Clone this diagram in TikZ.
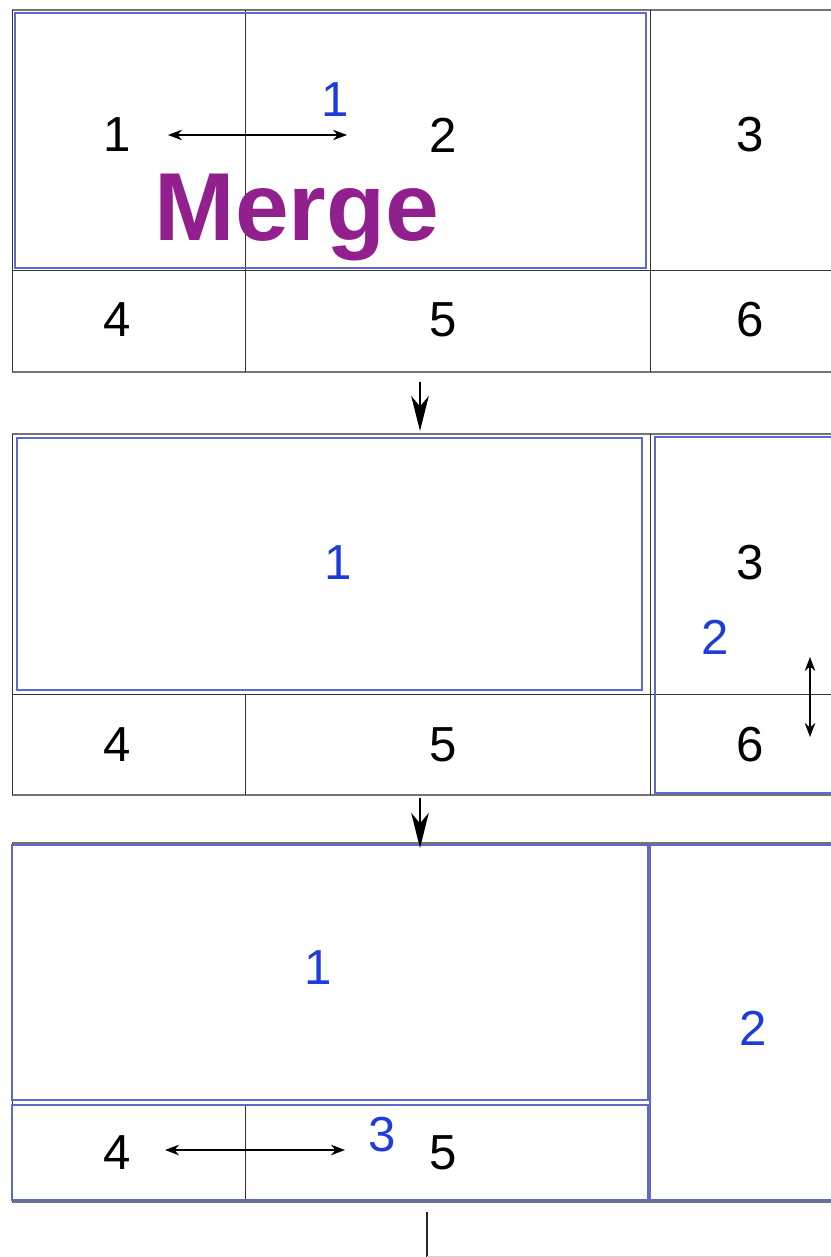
\documentclass[tikz,border=0pt]{standalone}
\usepackage{fontspec}
\setmainfont{Liberation Sans}
\usetikzlibrary{arrows.meta,positioning}
\definecolor{kek}{RGB}{30,60,220}
\definecolor{keret}{RGB}{95,105,205}
\definecolor{lila}{RGB}{145,32,142}
\tikzset{
  vonal/.style={draw=black!80,line width=0.5pt},
  szel/.style={draw=black!55,line width=1.5pt},
  blokk/.style={draw=keret,line width=1.1pt},
  szam/.style={font=\fontsize{28}{30}\selectfont,inner sep=0pt},
  kszam/.style={szam,text=kek},
  nyil/.style={{Stealth[length=8pt,width=6pt]}-{Stealth[length=8pt,width=6pt]},line width=0.6pt},
  lenyil/.style={-{Stealth[length=20pt,width=10pt,inset=6pt]},line width=0.9pt},
}
\begin{document}
\begin{tikzpicture}[x=0.02cm,y=-0.02cm]
  \clip (0,0) rectangle (831,1257);
  % 1. racs + merge
  \begin{scope}
    \draw[szel] (12,10) -- (840,10);
    \draw[szel] (12,372) -- (840,372);
    \draw[vonal] (12,10) -- (12,372);
    \draw[vonal] (12,270) -- (840,270);
    \draw[vonal] (245,10) -- (245,372);
    \draw[vonal] (650,10) -- (650,372);
    \draw[blokk] (15,13) rectangle (646,268);
    \node[szam] (e1) at (117,135) {1};
    \node[szam] (e2) at (443,135) {2};
    \node[szam] (e3) at (750,135) {3};
    \node[szam] (e4) at (117,320) {4};
    \node[szam] (e5) at (443,320) {5};
    \node[szam] (e6) at (750,320) {6};
    \node[kszam] (ek1) at (335,100) {1};
    \coordinate (ea) at (168,135); \coordinate (eb) at (347,135);
    \draw[nyil] (ea) -- (eb);
    \node[anchor=base,inner sep=0pt,text=lila,font=\fontsize{55}{60}\selectfont\bfseries] (merge) at (297,240) {Merge};
    \coordinate (le1) at (420,382);
  \end{scope}
  % 2. 1 kesz, 3+6
  \begin{scope}
    \draw[szel] (12,434) -- (840,434);
    \draw[szel] (12,795) -- (840,795);
    \draw[vonal] (12,434) -- (12,795);
    \draw[vonal] (12,694) -- (840,694);
    \draw[vonal] (245,694) -- (245,795);
    \draw[vonal] (650,434) -- (650,795);
    \draw[blokk] (17,438) rectangle (642,690);
    \draw[blokk] (655,437) rectangle (840,793);
    \node[kszam] (mk1) at (338,563) {1};
    \node[szam] (m3) at (750,563) {3};
    \node[kszam] (mk2) at (715,637) {2};
    \node[szam] (m4) at (117,745) {4};
    \node[szam] (m5) at (443,745) {5};
    \node[szam] (m6) at (750,745) {6};
    \coordinate (ma) at (810,657); \coordinate (mb) at (810,737);
    \draw[nyil] (ma) -- (mb);
    \coordinate (fel2) at (420,431);
    \coordinate (le2) at (420,798);
  \end{scope}
  \draw[lenyil] (le1) -- (fel2);
  % 3. 1, 2 kesz, 4+5
  \begin{scope}
    \draw[szel] (12,843) -- (840,843);
    \draw[szel] (12,1202) -- (840,1202);
    \draw[vonal] (12,843) -- (12,1202);
    \draw[vonal] (245,1105) -- (245,1200);
    \draw[blokk] (12,845) rectangle (648,1100);
    \draw[blokk] (12,1105) rectangle (648,1200);
    \draw[blokk] (650,845) rectangle (840,1200);
    \node[kszam] (hk1) at (318,968) {1};
    \node[kszam] (hk2) at (753,1028) {2};
    \node[kszam] (hk3) at (382,1135) {3};
    \node[szam] (h4) at (117,1153) {4};
    \node[szam] (h5) at (443,1153) {5};
    \coordinate (ha) at (165,1150); \coordinate (hb) at (345,1150);
    \draw[nyil] (ha) -- (hb);
    \coordinate (fel3) at (420,848);
  \end{scope}
  \draw[lenyil] (le2) -- (fel3);
  % folytatas
  \coordinate (tov) at (427,1212);
  \coordinate (tovl) at (427,1260);
  \draw[black!85,line width=0.8pt] (tov) -- (tovl);
  \draw[gray!35] (427,1256) -- (840,1256);
\end{tikzpicture}
\end{document}
